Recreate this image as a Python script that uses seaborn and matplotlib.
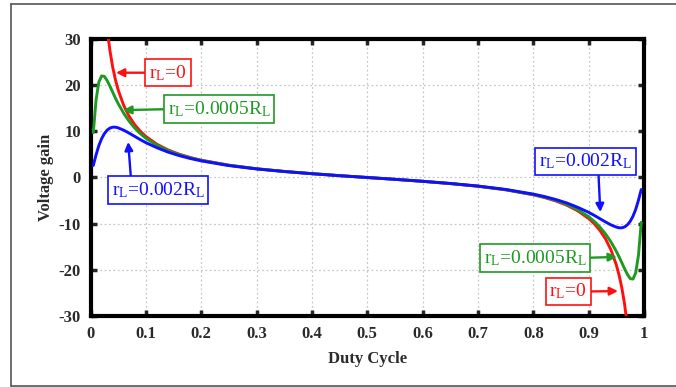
import matplotlib
matplotlib.use("Agg")
import matplotlib.pyplot as plt
import seaborn as sns
import pandas as pd
from matplotlib.lines import Line2D

# ---- data ----
duty = [0.005, 0.01, 0.015, 0.02, 0.025, 0.03, 0.035, 0.04, 0.045, 0.05, 0.06, 0.07,
        0.08, 0.09, 0.1, 0.12, 0.14, 0.16, 0.18, 0.2, 0.25, 0.3, 0.35, 0.4, 0.45, 0.5,
        0.55, 0.6, 0.65, 0.7, 0.75, 0.8, 0.82, 0.84, 0.86, 0.88, 0.9, 0.91, 0.92, 0.93,
        0.94, 0.95, 0.955, 0.96, 0.965, 0.97, 0.975, 0.98, 0.985, 0.99, 0.995]

gain_r0 = [199.0, 98.99, 65.65, 48.98, 38.97, 32.30, 27.54, 23.96, 21.18, 18.95, 15.60, 13.21,
           11.41, 10.01, 8.89, 7.20, 5.98, 5.06, 4.34, 3.75, 2.67, 1.90, 1.32, 0.83, 0.40, 0.0,
           -0.40, -0.83, -1.32, -1.90, -2.67, -3.75, -4.34, -5.06, -5.98, -7.20, -8.89, -10.01,
           -11.41, -13.21, -15.60, -18.95, -21.18, -23.96, -27.54, -32.30, -38.97, -48.98,
           -65.65, -98.99, -199.0]

gain_r0005 = [9.7, 16.8, 20.65, 22.0, 21.9, 21.0, 19.8, 18.5, 17.2, 16.0, 13.9, 12.15,
              10.7, 9.5, 8.5, 6.97, 5.82, 4.95, 4.26, 3.7, 2.64, 1.88, 1.31, 0.83, 0.40, 0.0,
              -0.40, -0.83, -1.31, -1.88, -2.64, -3.7, -4.26, -4.95, -5.82, -6.97, -8.5, -9.5,
              -10.7, -12.15, -13.9, -16.0, -17.2, -18.5, -19.8, -21.0, -21.9, -22.0, -20.65,
              -16.8, -9.7]

gain_r002 = [2.6, 4.9, 6.9, 8.4, 9.5, 10.25, 10.7, 10.9, 10.9, 10.75, 10.25, 9.6,
             8.9, 8.2, 7.55, 6.45, 5.5, 4.75, 4.12, 3.6, 2.58, 1.85, 1.29, 0.82, 0.39, 0.0,
             -0.39, -0.82, -1.29, -1.85, -2.58, -3.6, -4.12, -4.75, -5.5, -6.45, -7.55, -8.2,
             -8.9, -9.6, -10.25, -10.75, -10.9, -10.9, -10.7, -10.25, -9.5, -8.4, -6.9,
             -4.9, -2.6]

series_names = ["rL=0", "rL=0.0005RL", "rL=0.002RL"]
series_colors = ["#ff1010", "#1e9a22", "#1010ff"]

x_ticks = [0, 0.1, 0.2, 0.3, 0.4, 0.5, 0.6, 0.7, 0.8, 0.9, 1.0]
x_tick_labels = ["0", "0.1", "0.2", "0.3", "0.4", "0.5", "0.6", "0.7", "0.8", "0.9", "1"]
y_ticks = [-30, -20, -10, 0, 10, 20, 30]

df = pd.DataFrame({
    "Duty Cycle": duty * 3,
    "Voltage gain": gain_r0 + gain_r0005 + gain_r002,
    "series": [series_names[0]] * len(duty) + [series_names[1]] * len(duty) + [series_names[2]] * len(duty),
})

sns.set_style("white")
plt.rcParams["font.family"] = ["Liberation Serif", "DejaVu Serif"]
plt.rcParams["mathtext.fontset"] = "custom"
plt.rcParams["mathtext.rm"] = "Liberation Serif"
plt.rcParams["mathtext.it"] = "Liberation Serif:italic"
plt.rcParams["axes.unicode_minus"] = False

fig = plt.figure(figsize=(6.76, 3.87), dpi=100)
ax = fig.add_axes([0.1339, 0.1835, 0.9527 - 0.1339, 0.8992 - 0.1835])

sns.lineplot(data=df, x="Duty Cycle", y="Voltage gain", hue="series",
             hue_order=series_names, palette=dict(zip(series_names, series_colors)),
             sort=False, estimator=None, lw=2.1, legend=False, ax=ax, zorder=3)

ax.set_xlim(0, 1)
ax.set_ylim(-30, 30)
ax.set_xticks(x_ticks)
ax.set_xticklabels(x_tick_labels)
ax.set_yticks(y_ticks)
ax.grid(True, color="#c8c8c8", linestyle=(0, (1.5, 2)), lw=0.9)
for s in ax.spines.values():
    s.set_visible(True)
    s.set_linewidth(3.0)
    s.set_color("black")
ax.tick_params(direction="in", length=4, width=2.5, top=True, right=True,
               bottom=True, left=True, labelsize=12, labelcolor="#2a2a2a", pad=7)
for lab in ax.get_xticklabels() + ax.get_yticklabels():
    lab.set_fontweight("bold")
ax.set_xlabel("Duty Cycle", fontsize=12, fontweight="bold", color="#2a2a2a", labelpad=7)
ax.set_ylabel("Voltage gain", fontsize=12, fontweight="bold", color="#2a2a2a", labelpad=3.5)

lab0 = r"r$_\mathrm{L}$=0"
lab1 = r"r$_\mathrm{L}$=0.0005R$_\mathrm{L}$"
lab2 = r"r$_\mathrm{L}$=0.002R$_\mathrm{L}$"

def note(text, color, xy, xytext, relpos):
    ax.annotate(text, xy=xy, xytext=xytext, fontsize=14, color=color,
                ha="center", va="center", zorder=5,
                bbox=dict(boxstyle="square,pad=0.2", fc="white", ec=color, lw=1.2),
                arrowprops=dict(arrowstyle="-|>", color=color, lw=1.7,
                                mutation_scale=12, relpos=relpos, shrinkA=0, shrinkB=0))

note(lab0, series_colors[0], (0.046, 22.7), (0.140, 22.7), (0.0, 0.5))
note(lab1, series_colors[1], (0.059, 14.6), (0.232, 14.8), (0.0, 0.5))
note(lab2, series_colors[2], (0.068, 7.7), (0.122, -2.7), (0.21, 1.0))
note(lab2, series_colors[2], (0.921, -7.5), (0.894, 3.45), (0.64, 0.0))
note(lab1, series_colors[1], (0.951, -17.2), (0.803, -17.4), (1.0, 0.5))
note(lab0, series_colors[0], (0.953, -24.6), (0.863, -24.7), (1.0, 0.5))

# outer frame
fig.add_artist(Line2D([11 / 676, 1.0], [1 - 4 / 387, 1 - 4 / 387], transform=fig.transFigure, color="#555555", lw=1.2))
fig.add_artist(Line2D([11 / 676, 11 / 676], [1 - 4 / 387, 1 - 386 / 387], transform=fig.transFigure, color="#555555", lw=1.2))
fig.add_artist(Line2D([11 / 676, 1.0], [1 - 386 / 387, 1 - 386 / 387], transform=fig.transFigure, color="#555555", lw=1.2))

fig.savefig("out.png", dpi=100)
